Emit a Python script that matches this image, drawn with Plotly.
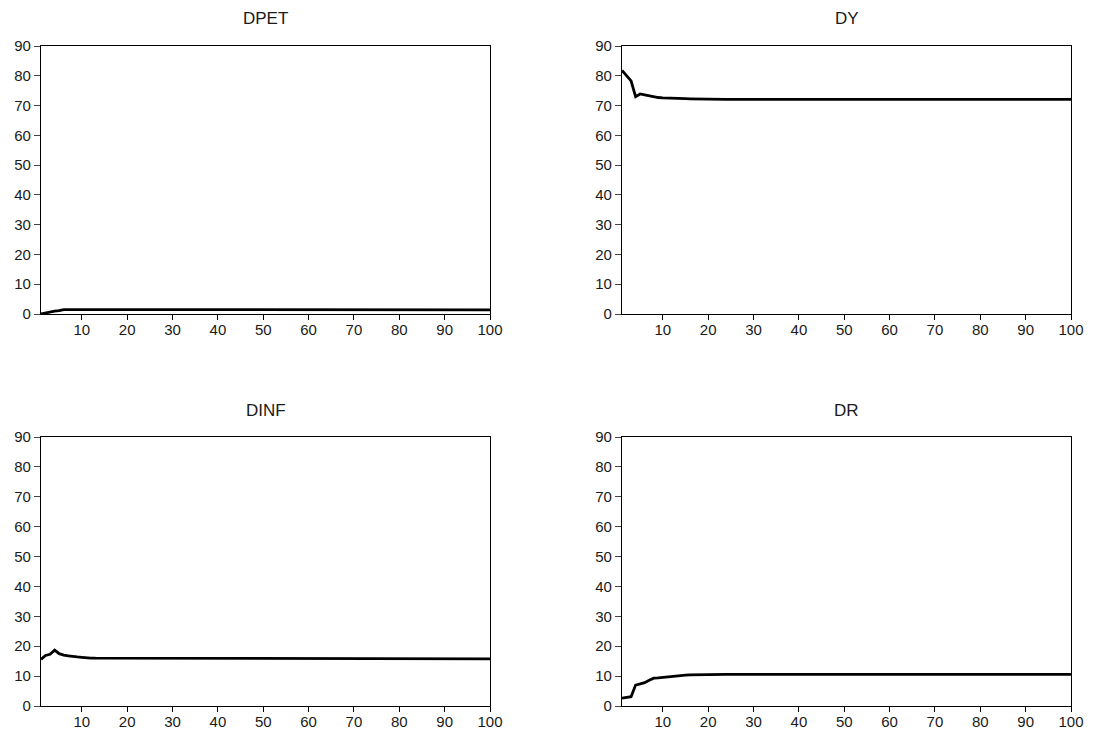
import plotly.graph_objects as go

periods = list(range(1, 101))
titles = ["DPET", "DY", "DINF", "DR"]

dpet = [0.0, 0.4, 0.8, 1.0, 1.1, 1.5, 1.5, 1.5, 1.45, 1.45,
        1.4, 1.4, 1.4, 1.4, 1.4, 1.4, 1.4, 1.4, 1.4, 1.4,
        1.4, 1.4, 1.4, 1.4, 1.4, 1.4, 1.4, 1.4, 1.4, 1.4,
        1.4, 1.4, 1.4, 1.4, 1.4, 1.4, 1.4, 1.4, 1.4, 1.4,
        1.4, 1.4, 1.4, 1.4, 1.4, 1.4, 1.4, 1.4, 1.4, 1.4,
        1.4, 1.4, 1.4, 1.4, 1.4, 1.4, 1.4, 1.4, 1.4, 1.4,
        1.4, 1.4, 1.4, 1.4, 1.4, 1.4, 1.4, 1.4, 1.4, 1.4,
        1.4, 1.4, 1.4, 1.4, 1.4, 1.4, 1.4, 1.4, 1.4, 1.4,
        1.4, 1.4, 1.4, 1.4, 1.4, 1.4, 1.4, 1.4, 1.4, 1.4,
        1.4, 1.4, 1.4, 1.4, 1.4, 1.4, 1.4, 1.4, 1.4, 1.4]

dy = [81.8, 80.0, 78.3, 73.0, 73.9, 73.6, 73.3, 72.8, 72.7, 72.6,
      72.5, 72.4, 72.35, 72.3, 72.3, 72.25, 72.2, 72.2, 72.2, 72.2,
      72.15, 72.15, 72.15, 72.1, 72.1, 72.1, 72.1, 72.1, 72.1, 72.1,
      72.1, 72.1, 72.1, 72.1, 72.1, 72.1, 72.1, 72.1, 72.1, 72.1,
      72.1, 72.1, 72.1, 72.1, 72.1, 72.1, 72.1, 72.1, 72.1, 72.1,
      72.1, 72.1, 72.1, 72.1, 72.1, 72.1, 72.1, 72.1, 72.1, 72.1,
      72.1, 72.1, 72.1, 72.1, 72.1, 72.1, 72.1, 72.1, 72.1, 72.1,
      72.1, 72.1, 72.1, 72.1, 72.1, 72.1, 72.1, 72.1, 72.1, 72.1,
      72.1, 72.1, 72.1, 72.1, 72.1, 72.1, 72.1, 72.1, 72.1, 72.1,
      72.1, 72.1, 72.1, 72.1, 72.1, 72.1, 72.1, 72.1, 72.1, 72.1]

dinf = [15.6, 16.9, 17.3, 18.7, 17.5, 17.0, 16.8, 16.5, 16.4, 16.3,
        16.1, 16.05, 16.0, 16.0, 15.95, 15.9, 15.9, 15.9, 15.85, 15.85,
        15.8, 15.8, 15.8, 15.8, 15.8, 15.8, 15.8, 15.8, 15.8, 15.8,
        15.8, 15.8, 15.8, 15.8, 15.8, 15.8, 15.8, 15.8, 15.8, 15.8,
        15.8, 15.8, 15.8, 15.8, 15.8, 15.8, 15.8, 15.8, 15.8, 15.8,
        15.8, 15.8, 15.8, 15.8, 15.8, 15.8, 15.8, 15.8, 15.8, 15.8,
        15.8, 15.8, 15.8, 15.8, 15.8, 15.8, 15.8, 15.8, 15.8, 15.8,
        15.8, 15.8, 15.8, 15.8, 15.8, 15.8, 15.8, 15.8, 15.8, 15.8,
        15.8, 15.8, 15.8, 15.8, 15.8, 15.8, 15.8, 15.8, 15.8, 15.8,
        15.8, 15.8, 15.8, 15.8, 15.8, 15.8, 15.8, 15.8, 15.8, 15.8]

dr = [2.6, 2.8, 3.1, 7.0, 7.4, 7.8, 8.6, 9.3, 9.4, 9.6,
      9.8, 10.0, 10.2, 10.3, 10.35, 10.4, 10.45, 10.5, 10.5, 10.5,
      10.5, 10.55, 10.55, 10.55, 10.55, 10.6, 10.6, 10.6, 10.6, 10.6,
      10.6, 10.6, 10.6, 10.6, 10.6, 10.6, 10.6, 10.6, 10.6, 10.6,
      10.6, 10.6, 10.6, 10.6, 10.6, 10.6, 10.6, 10.6, 10.6, 10.6,
      10.6, 10.6, 10.6, 10.6, 10.6, 10.6, 10.6, 10.6, 10.6, 10.6,
      10.6, 10.6, 10.6, 10.6, 10.6, 10.6, 10.6, 10.6, 10.6, 10.6,
      10.6, 10.6, 10.6, 10.6, 10.6, 10.6, 10.6, 10.6, 10.6, 10.6,
      10.6, 10.6, 10.6, 10.6, 10.6, 10.6, 10.6, 10.6, 10.6, 10.6,
      10.6, 10.6, 10.6, 10.6, 10.6, 10.6, 10.6, 10.6, 10.6, 10.6]

series = [dpet, dy, dinf, dr]
x_ticks = [10, 20, 30, 40, 50, 60, 70, 80, 90, 100]
y_ticks = [0, 10, 20, 30, 40, 50, 60, 70, 80, 90]

W, H = 1093, 734
# pixel boxes: (left, right, top, bottom)
boxes = [(41, 490, 46, 314), (622, 1071, 46, 314),
         (41, 490, 437, 706), (622, 1071, 437, 706)]

fig = go.Figure()
tick_font = dict(family="Liberation Sans, Arial, sans-serif", size=15, color="#1a1a1a")
title_font = dict(family="Liberation Sans, Arial, sans-serif", size=17, color="#1a1a1a")
layout = dict(width=W, height=H, margin=dict(l=0, r=0, t=0, b=0, autoexpand=False),
              template="none",
              plot_bgcolor="white", paper_bgcolor="white", showlegend=False,
              font=tick_font, annotations=[])

for i, (name, vals, box) in enumerate(zip(titles, series, boxes)):
    n = "" if i == 0 else str(i + 1)
    l, r, t, b = box
    fig.add_trace(go.Scatter(x=periods, y=vals, mode="lines",
                             line=dict(color="black", width=2.8),
                             xaxis="x" + n, yaxis="y" + n))
    layout["xaxis" + n] = dict(domain=[l / W, r / W], anchor="y" + n,
                               range=[1, 100], tickvals=x_ticks, automargin=False,
                               ticks="outside", ticklen=5, tickwidth=1, tickcolor="black",
                               ticklabelstandoff=-3,
                               showline=True, linecolor="black", linewidth=1.3, mirror=True,
                               showgrid=False, zeroline=False, tickfont=tick_font)
    layout["yaxis" + n] = dict(domain=[1 - b / H, 1 - t / H], anchor="x" + n,
                               range=[0, 90], tickvals=y_ticks, automargin=False,
                               ticks="outside", ticklen=6, tickwidth=1, tickcolor="#444",
                               showline=True, linecolor="black", linewidth=1.3, mirror=True,
                               showgrid=False, zeroline=False, tickfont=tick_font)
    layout["annotations"].append(dict(text=name, xref="paper", yref="paper",
                                      x=(l + r) / 2 / W, y=1 - (t - 27) / H,
                                      xanchor="center", yanchor="middle",
                                      showarrow=False, font=title_font))

fig.update_layout(**layout)
fig.write_html("out.html")
